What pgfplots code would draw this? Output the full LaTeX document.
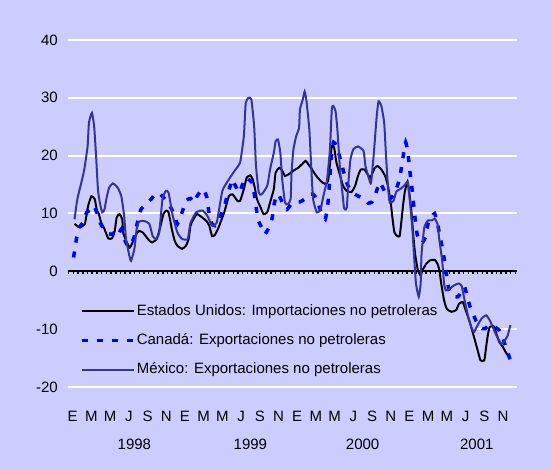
\documentclass[border=0pt]{standalone}
\usepackage{pgfplots}
\pgfplotsset{compat=1.18}
\usepackage{fontspec}
\setmainfont{Liberation Sans}
\definecolor{bgcol}{HTML}{CCCCFF}
\definecolor{mexcol}{HTML}{333399}
\definecolor{cancol}{HTML}{0000FF}

\begin{document}
\fontsize{15}{18}\selectfont
\begin{tikzpicture}[x=1pt,y=1pt]
\fill[bgcol] (-68,-83) rectangle (484,387);
\useasboundingbox (-68,-83) rectangle (484,387);
\begin{axis}[
  at={(0,0)}, anchor=south west,
  width=449pt, height=347pt, scale only axis,
  xmin=-0.5, xmax=47.5, ymin=-20, ymax=40,
  axis line style={draw=none},
  major tick length=0pt,
  ytick={-20,-10,...,40},
  xtick={0,2,...,46},
  xticklabels={E,M,M,J,S,N,E,M,M,J,S,N,E,M,M,J,S,N,E,M,M,J,S,N},
  extra x ticks={6.6,19.0,31.0,43.2},
  extra x tick labels={1998,1999,2000,2001},
  extra x tick style={xticklabel style={yshift=-28pt}},
  xticklabel style={yshift=-19pt},
  yticklabel style={xshift=-5pt},
  tick label style={font=\fontsize{15}{18}\selectfont},
  /pgf/number format/assume math mode=true,
  clip=false,
  legend cell align=left,
  legend style={at={(axis cs:0.74,-5.7)}, anchor=north west, draw=none, fill=none,
    inner sep=0pt, row sep=16pt, font=\fontsize{15}{18}\selectfont,
    nodes={inner xsep=1.5pt, inner ysep=0pt}},
  legend image code/.code={\draw[#1] (0pt,0pt) -- (52pt,0pt);},
]
% grid (the -10 line is hidden behind the legend on the left)
\draw[white, line width=2pt] (axis cs:-0.5,40) -- (axis cs:47.5,40);
\draw[white, line width=2pt] (axis cs:-0.5,30) -- (axis cs:47.5,30);
\draw[white, line width=2pt] (axis cs:-0.5,20) -- (axis cs:47.5,20);
\draw[white, line width=2pt] (axis cs:-0.5,10) -- (axis cs:47.5,10);
\draw[white, line width=2pt] (axis cs:43.2,-10) -- (axis cs:47.5,-10);
\draw[white, line width=2pt] (axis cs:-0.5,-20) -- (axis cs:47.5,-20);
% zero line with small ticks
\draw[black, line width=2pt] (axis cs:-0.5,0) -- (axis cs:47.5,0);
\draw[black, line width=2pt, dash pattern=on 1.5pt off 3.2pt] ([yshift=-2pt]axis cs:-0.5,0) -- ([yshift=-2pt]axis cs:47.5,0);

\addplot[black, line width=2pt, smooth, tension=0.3] coordinates {
(0.2,8.2) (0.75,7.6) (1.3,8.2) (1.65,11.3) (2.0,13.0) (2.35,12.5) (2.6,10.5) (2.8,9.9)
(3.05,8.4) (3.4,7.3) (3.8,5.7) (4.2,5.7) (4.5,7.0) (4.7,9.3) (5.0,9.9) (5.3,9.0)
(5.4,6.7) (5.7,5.3) (6.1,4.1) (6.4,5.0) (6.8,6.4) (7.1,7.0) (7.5,6.7) (7.8,6.1)
(8.2,5.3) (8.5,5.0) (9.0,5.6) (9.4,7.9) (9.7,9.9) (10.0,10.5) (10.25,10.2) (10.6,7.3)
(10.9,5.3) (11.2,4.4) (11.7,3.9) (12.1,4.4) (12.4,5.6) (12.6,7.9) (13.0,9.3) (13.3,9.9)
(13.85,9.3) (14.3,8.7) (14.6,7.9) (14.9,6.1) (15.2,6.3) (15.6,7.6) (16.2,10.2) (16.7,13.0)
(17.1,13.3) (17.6,12.2) (17.9,12.2) (18.3,14.2) (18.6,16.2) (19.0,16.6) (19.25,15.9) (19.5,14.2)
(19.7,12.5) (20.1,11.0) (20.4,9.9) (20.8,10.2) (21.1,11.9) (21.5,14.2) (21.7,17.1) (22.1,17.9)
(22.4,17.4) (22.7,16.5) (23.1,16.8) (23.6,17.4) (24.1,17.9) (24.5,18.5) (24.9,19.1) (25.2,18.5)
(25.6,17.6) (25.9,16.8) (26.3,16.0) (26.6,15.5) (27.0,15.1) (27.3,15.6) (27.5,18.5) (27.7,21.7)
(27.95,21.4) (28.2,18.8) (28.6,16.5) (28.9,14.8) (29.3,13.9) (29.8,13.7) (30.2,14.8) (30.5,16.5)
(30.8,17.6) (31.2,17.6) (31.4,17.1) (31.8,16.2) (32.0,16.8) (32.3,17.9) (32.6,18.2) (33.0,17.6)
(33.4,16.5) (33.7,14.8) (34.0,11.9) (34.2,9.0) (34.4,6.7) (34.7,6.1) (34.95,6.1) (35.1,8.0)
(35.3,11.1) (35.5,13.7) (35.8,15.5) (36.0,13.4) (36.2,10.6) (36.4,6.5) (36.6,3.1) (36.9,0.2)
(37.2,-0.7) (37.4,0.2) (37.8,1.3) (38.2,1.9) (38.7,2.0) (39.0,1.3) (39.2,0.2) (39.4,-2.1)
(39.7,-5.0) (40.0,-6.5) (40.5,-7.0) (41.0,-6.7) (41.3,-5.6) (41.7,-5.3) (41.9,-6.2) (42.4,-8.5)
(42.7,-10.2) (43.0,-11.9) (43.3,-13.7) (43.6,-15.4) (44.0,-15.4) (44.2,-13.1) (44.4,-10.8) (44.6,-9.6)
(45.0,-9.5) (45.3,-10.8) (45.6,-12.2) (46.0,-13.1) (46.3,-14.0) (46.8,-15.1)
};
\addlegendentry{Estados Unidos: Importaciones no petroleras}

\addplot[cancol, line width=3.5pt, dash pattern=on 6pt off 9pt, smooth, tension=0.3] coordinates {
(0.1,2.4) (0.4,5.6) (0.7,7.6) (1.1,8.4) (1.5,10.2) (2.0,10.7) (2.3,11.3) (2.7,9.6)
(3.0,8.2) (3.6,6.7) (4.1,6.4) (4.5,6.7) (4.8,6.1) (5.2,7.3) (5.5,5.6) (5.9,4.4)
(6.2,4.4) (6.6,6.1) (7.0,9.0) (7.3,10.7) (7.8,11.6) (8.4,12.5) (8.9,13.5) (9.4,13.3)
(10.0,12.2) (10.5,11.0) (11.0,9.3) (11.2,8.2) (11.7,10.2) (12.1,12.2) (12.6,12.6) (13.0,11.9)
(13.3,13.0) (13.7,13.9) (14.0,14.2) (14.4,12.5) (14.6,9.6) (14.9,8.2) (15.2,7.9) (15.6,9.0)
(16.2,11.0) (16.5,13.0) (16.9,15.1) (17.0,15.9) (17.4,14.8) (17.8,13.6) (18.1,14.8) (18.5,16.2)
(18.8,15.9) (19.2,15.3) (19.5,12.5) (19.8,9.0) (20.2,7.6) (20.5,6.4) (20.9,7.3) (21.3,9.0)
(21.5,11.3) (21.8,13.3) (22.1,13.0) (22.5,11.6) (22.9,10.7) (23.3,11.5) (23.8,12.0) (24.3,12.0)
(24.8,12.5) (25.3,13.3) (25.7,13.3) (26.1,12.5) (26.5,10.5) (27.0,9.0) (27.3,11.9) (27.5,16.5)
(27.7,20.5) (27.9,22.3) (28.2,21.7) (28.6,19.5) (29.0,17.0) (29.4,14.9) (30.0,13.5) (30.8,12.8)
(31.2,12.5) (31.6,11.8) (32.0,12.0) (32.4,13.4) (32.8,15.4) (33.2,14.3) (33.6,13.0) (33.9,12.5)
(34.4,13.4) (34.8,15.2) (35.1,17.5) (35.4,20.6) (35.6,22.3) (35.8,20.9) (35.95,18.9) (36.1,16.6)
(36.3,14.0) (36.6,9.2) (36.8,6.6) (37.1,5.0) (37.4,5.0) (37.7,5.9) (38.0,8.3) (38.4,9.5)
(38.7,10.0) (39.0,8.3) (39.2,6.6) (39.6,3.3) (39.9,0.2) (40.2,-3.0) (40.6,-4.2) (41.2,-4.4)
(41.6,-3.3) (41.9,-2.7) (42.2,-4.5) (42.5,-6.2) (42.8,-7.3) (43.1,-8.5) (43.5,-9.3) (43.8,-9.9)
(44.1,-9.9) (44.5,-9.3) (45.1,-9.6) (45.6,-10.2) (45.9,-11.1) (46.3,-13.1) (46.8,-15.4)
};
\addlegendentry{Canadá: Exportaciones no petroleras}

\addplot[mexcol, line width=2pt, smooth, tension=0.3] coordinates {
(0.2,9.0) (0.5,12.5) (1.1,16.5) (1.3,18.2) (1.6,21.7) (1.74,25.7) (2.06,27.4) (2.3,25.0)
(2.5,20.0) (2.7,14.2) (2.9,11.9) (3.16,10.2) (3.4,10.7) (3.6,12.5) (3.9,14.5) (4.3,15.2)
(4.8,14.5) (5.2,13.0) (5.5,9.6) (5.7,5.6) (6.06,2.7) (6.24,1.8) (6.6,3.9) (6.84,7.3)
(7.1,8.6) (7.66,8.7) (8.2,8.2) (8.55,6.1) (8.9,5.6) (9.25,6.7) (9.6,12.5) (9.96,13.9)
(10.25,13.6) (10.7,9.6) (11.2,6.7) (11.7,5.6) (12.3,5.6) (12.6,8.4) (13.2,10.2) (13.9,10.5)
(14.4,9.6) (14.9,7.9) (15.4,8.4) (16.0,13.9) (16.7,15.9) (17.4,17.6) (17.9,18.8) (18.3,23.4)
(18.5,29.1) (18.8,30.0) (19.1,29.7) (19.4,25.1) (19.6,18.2) (19.9,13.6) (20.2,13.3) (20.8,14.8)
(21.1,17.6) (21.5,20.5) (21.7,22.5) (21.95,22.8) (22.2,20.5) (22.4,15.9) (22.7,11.9) (23.0,11.6)
(23.3,12.5) (23.4,17.1) (23.6,21.1) (23.9,23.4) (24.2,24.8) (24.3,28.0) (24.6,29.7) (24.8,31.1)
(25.0,29.4) (25.3,24.5) (25.5,18.2) (25.7,12.5) (26.1,10.2) (26.5,10.7) (26.8,13.0) (27.2,15.9)
(27.5,21.1) (27.7,28.0) (27.85,28.6) (28.1,27.7) (28.3,24.5) (28.6,17.1) (28.8,14.2) (29.0,11.0)
(29.1,10.7) (29.3,11.0) (29.5,15.9) (29.7,19.4) (30.0,21.1) (30.5,21.6) (31.1,20.8) (31.3,18.2)
(31.7,15.9) (31.9,15.3) (32.2,20.5) (32.5,26.8) (32.7,29.4) (33.0,28.6) (33.3,25.7) (33.5,19.9)
(33.7,14.8) (33.9,11.9) (34.3,12.2) (34.6,13.8) (35.0,14.2) (35.5,14.9) (35.8,15.5) (36.0,12.9)
(36.3,7.7) (36.5,2.5) (36.7,-2.1) (37.0,-4.4) (37.2,-2.1) (37.3,3.1) (37.6,7.7) (38.0,8.8)
(38.4,8.8) (38.7,9.1) (39.0,8.2) (39.2,5.4) (39.5,1.9) (39.7,-2.1) (39.9,-3.3) (40.3,-3.0)
(40.8,-2.4) (41.3,-2.1) (41.6,-2.6) (41.9,-5.0) (42.2,-7.3) (42.6,-9.6) (42.9,-10.5) (43.2,-9.6)
(43.7,-8.2) (44.2,-7.6) (44.6,-8.5) (44.9,-9.6) (45.3,-11.1) (45.8,-12.5) (46.1,-12.2) (46.5,-11.1)
(46.8,-9.3)
};
\addlegendentry{México: Exportaciones no petroleras}
\end{axis}
\end{tikzpicture}
\end{document}
